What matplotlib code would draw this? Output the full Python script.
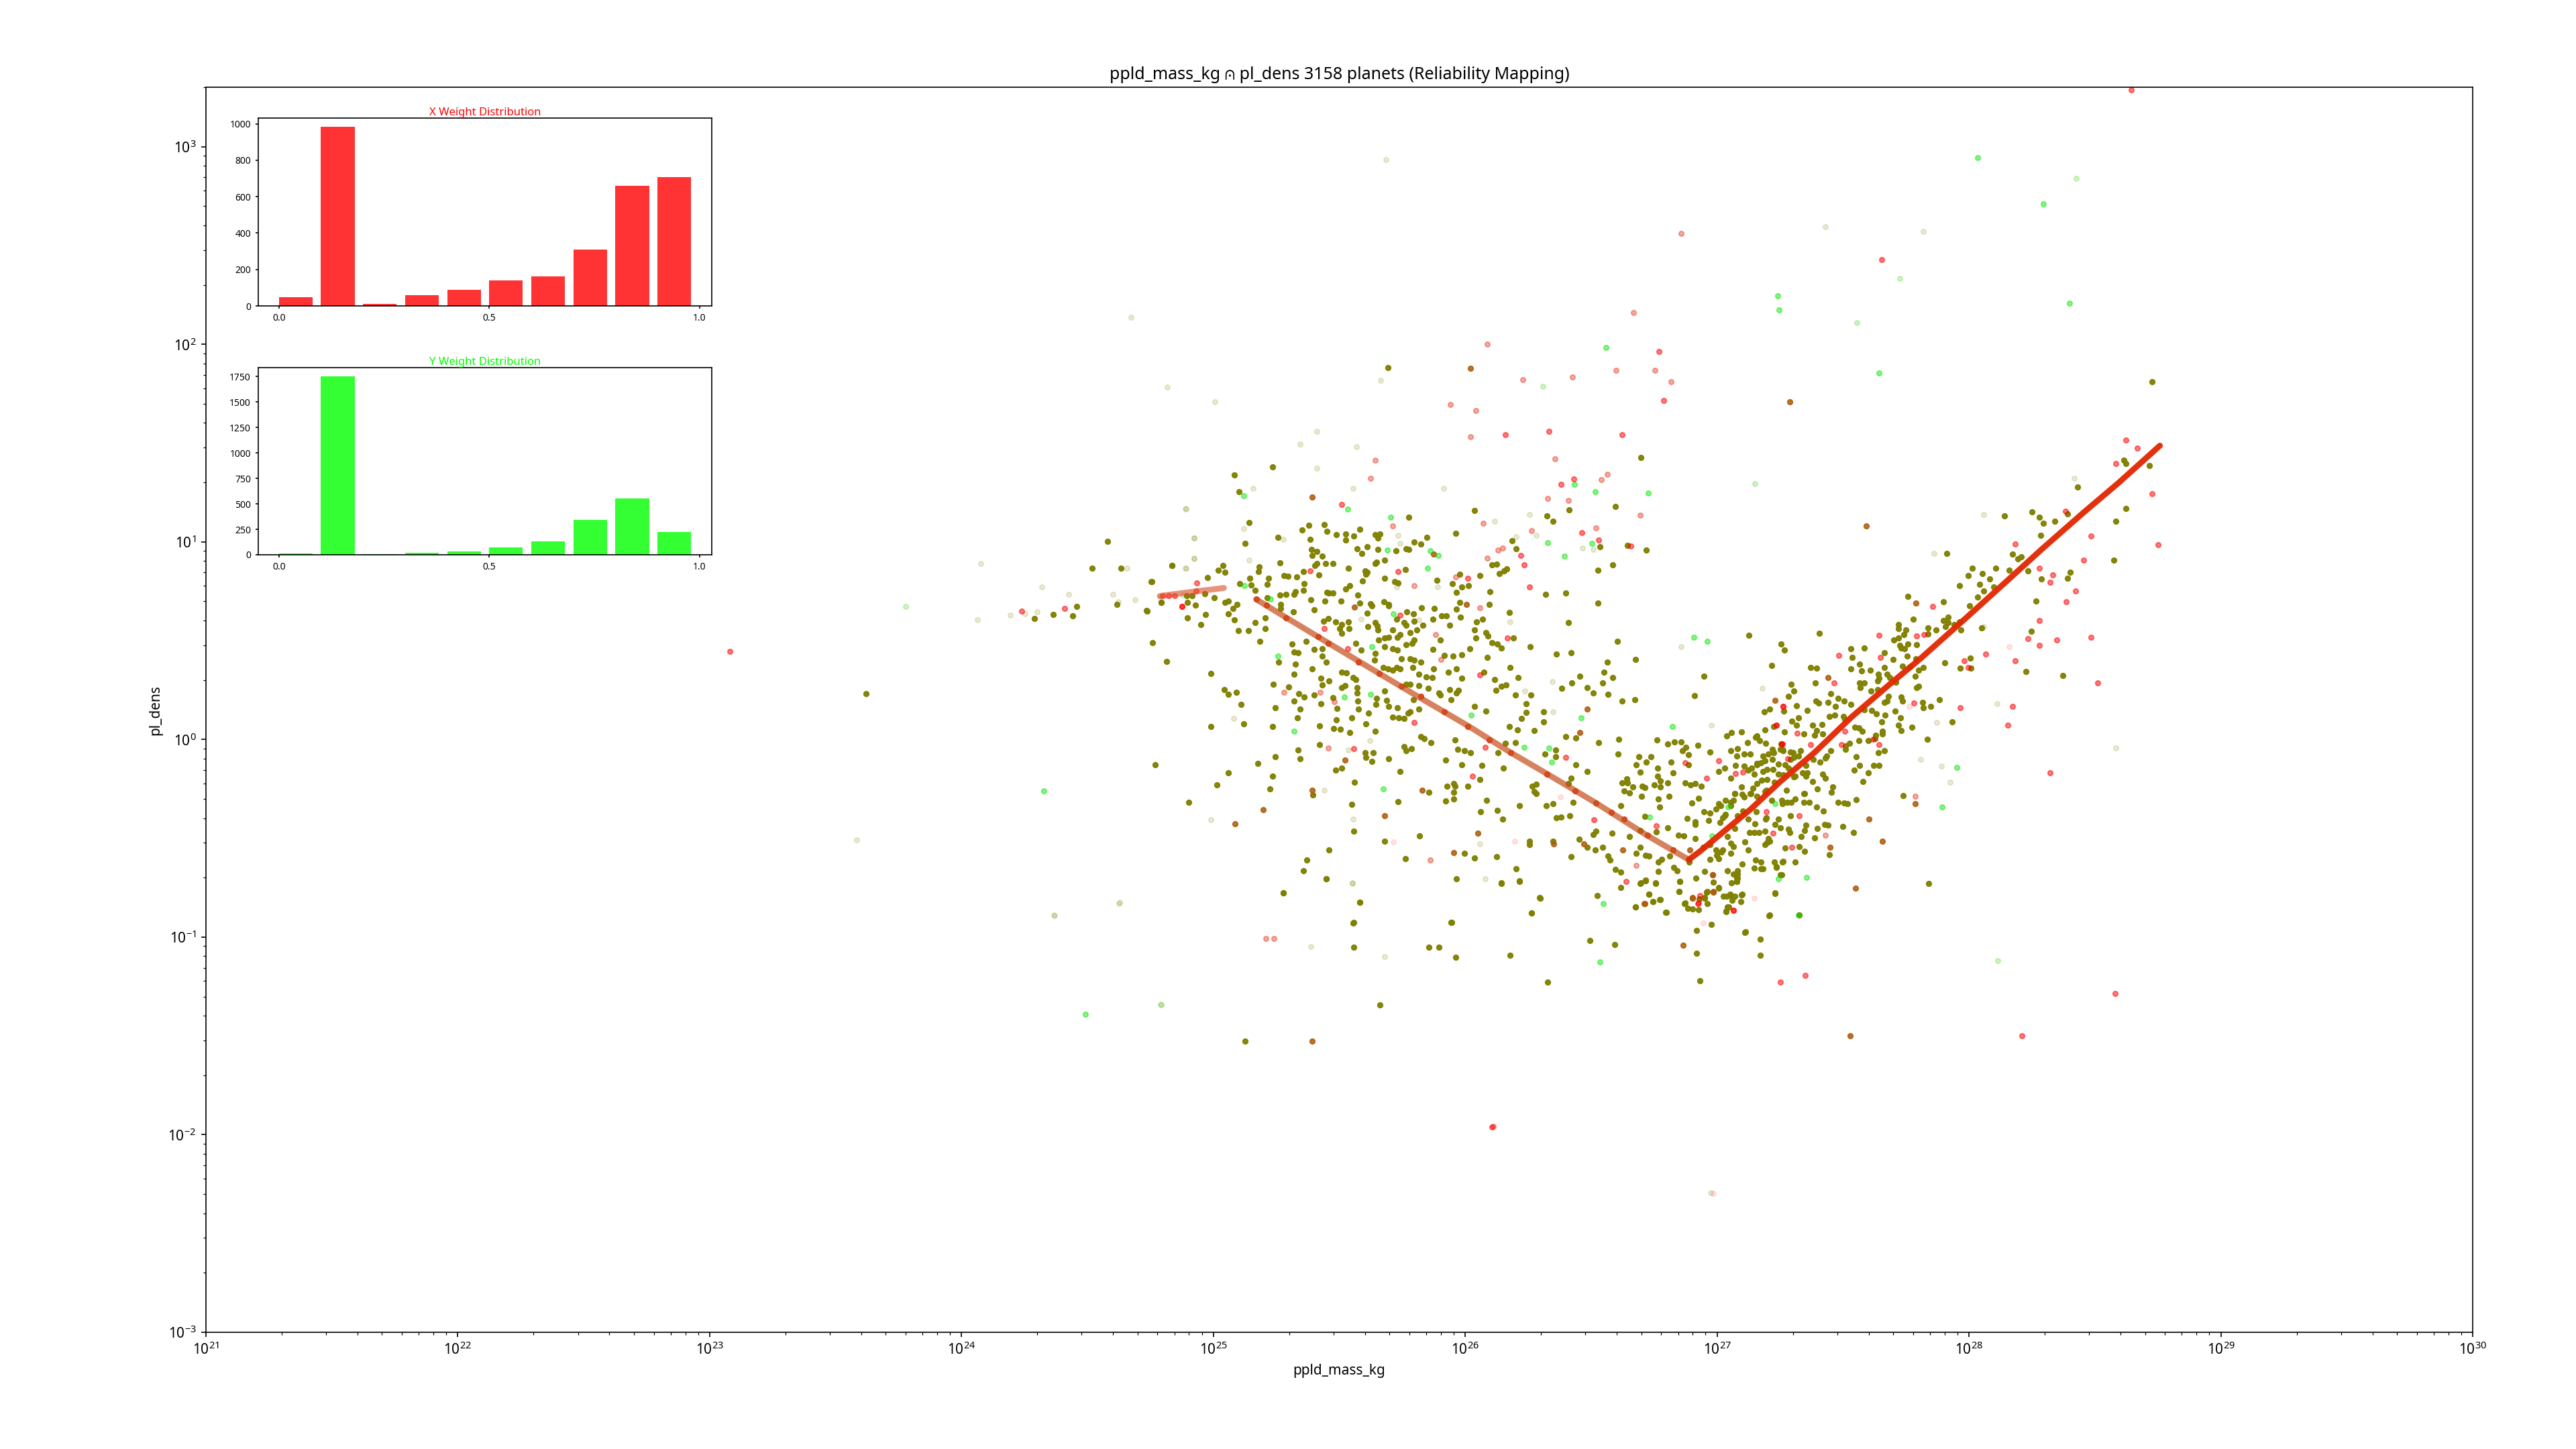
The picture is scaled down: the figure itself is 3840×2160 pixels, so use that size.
#!/usr/bin/env python3

# +
# import(s)
# -
import matplotlib
matplotlib.use('Agg')
import matplotlib.pyplot as plt
import numpy as np


# +
# constant(s): values, as (log10 mass, log10 density)
# -
OLIVE = [
    (25.083,1.338),(25.234,1.380),(25.102,1.255),(25.141,1.098),(25.255,1.022),(25.126,0.991),(25.380,1.084),(25.440,1.086),
    (25.353,1.061),(25.450,1.053),(25.384,1.013),(25.489,1.035),(25.526,1.041),(25.557,1.030),(25.581,1.065),(25.526,1.010),
    (25.642,1.036),(25.662,1.039),(25.654,1.020),(25.776,1.124),(25.848,1.023),(25.961,1.042),(26.036,1.158),(25.798,1.000),
    (25.824,0.989),(25.571,0.965),(25.589,0.940),(25.652,0.961),(25.610,0.975),(25.679,0.906),(25.724,0.954),(25.764,0.965),
    (25.776,0.963),(25.649,0.897),(25.642,0.889),(25.391,0.933),(25.433,0.928),(25.389,0.963),(25.411,0.952),(25.411,0.892),
    (25.404,0.882),(25.445,0.892),(25.474,0.892),(25.535,0.866),(25.603,0.854),(25.611,0.847),(25.606,0.837),(25.763,0.861),
    (25.679,0.816),(25.591,0.802),(25.720,0.799),(25.732,0.792),(25.888,0.806),(25.977,0.837),(26.058,0.828),(25.948,0.790),
    (25.987,0.771),(26.012,0.778),(25.965,0.745),(26.099,0.749),(25.978,0.693),(26.096,0.684),(25.540,0.778),(25.525,0.762),
    (25.574,0.730),(25.452,0.743),(25.460,0.742),(25.475,0.740),(25.418,0.833),(25.357,0.850),(25.265,0.895),(25.183,0.873),
    (25.180,0.850),(25.280,0.830),(25.297,0.826),(25.331,0.824),(25.219,0.816),(25.360,0.790),(25.214,0.785),(25.144,0.816),
    (25.151,0.783),(25.105,0.788),(25.039,0.882),(24.835,0.880),(25.020,0.856),(25.046,0.847),(24.976,0.819),(24.755,0.798),
    (25.166,0.755),(25.289,0.734),(25.357,0.755),(25.326,0.747),(25.319,0.736),(25.265,0.730),(25.214,0.719),(25.387,0.707),
    (25.442,0.700),(25.506,0.700),(25.581,0.691),(25.623,0.686),(25.678,0.698),(25.696,0.678),(25.267,0.682),(25.268,0.664),
    (25.401,0.658),(24.966,0.738),(24.915,0.729),(25.003,0.719),(24.893,0.728),(24.898,0.695),(24.928,0.681),(24.793,0.693),
    (24.736,0.651),(25.047,0.695),(25.059,0.702),(25.095,0.683),(25.078,0.663),(25.058,0.636),(24.968,0.631),(25.083,0.605),
    (24.898,0.615),(24.949,0.582),(25.165,0.593),(25.205,0.617),(25.100,0.550),(25.139,0.550),(25.205,0.561),(25.185,0.496),
    (25.318,0.646),(25.438,0.598),(25.455,0.612),(25.486,0.596),(25.509,0.582),(25.537,0.594),(25.501,0.561),(25.538,0.561),
    (25.509,0.539),(25.611,0.640),(25.628,0.678),(25.696,0.682),(25.613,0.570),(25.642,0.591),(25.651,0.574),(25.654,0.556),
    (25.727,0.608),(25.758,0.591),(25.768,0.646),(25.793,0.636),(25.827,0.665),(25.876,0.663),(25.764,0.577),(25.798,0.600),
    (25.832,0.579),(25.807,0.556),(25.781,0.542),(25.713,0.553),(25.742,0.532),(25.696,0.518),(25.679,0.513),(25.656,0.504),
    (25.730,0.517),(25.871,0.608),(25.905,0.625),(25.926,0.625),(25.938,0.579),(25.982,0.620),(25.965,0.660),(26.045,0.596),
    (26.069,0.608),(26.036,0.556),(26.082,0.542),(26.091,0.525),(26.043,0.513),(26.106,0.491),(26.128,0.482),(26.142,0.463),
    (26.192,0.513),(26.175,0.643),(26.259,0.470),(26.410,0.593),(26.398,0.740),(26.320,0.733),(26.526,0.691),(26.526,0.856),
    (26.585,0.885),(26.719,0.958),(26.643,0.982),(26.534,0.975),(26.697,1.428),(26.597,1.179),(26.412,1.162),(26.325,1.132),
    (26.349,1.106),(26.186,1.006),(26.203,0.965),(26.164,0.864),(26.135,0.838),(26.155,0.854),(26.106,0.885),(26.124,0.888),
    (25.311,0.484),(25.368,0.496),(25.399,0.456),(25.433,0.461),(25.336,0.439),(25.319,0.441),(25.258,0.392),(25.391,0.357),
    (25.326,0.380),(25.319,0.331),(25.431,0.422),(25.448,0.390),(25.426,0.309),(25.459,0.297),(25.433,0.276),(25.238,0.280),
    (25.299,0.266),(25.338,0.231),(25.360,0.214),(25.319,0.193),(25.401,0.224),(25.426,0.181),(25.246,0.162),(25.334,0.110),
    (25.345,0.155),(25.234,0.064),(25.120,0.079),(24.990,0.067),(25.109,0.176),(25.092,0.240),(25.042,0.254),(25.058,0.228),
    (24.991,0.335),(24.815,0.396),(24.759,0.491),(25.509,0.340),(25.528,0.338),(25.554,0.314),(25.566,0.302),(25.571,0.262),
    (25.509,0.261),(25.523,0.273),(25.571,0.236),(25.572,0.196),(25.475,0.210),(25.492,0.157),(25.577,0.155),(25.617,0.133),
    (25.550,0.110),(25.487,0.098),(25.477,0.057),(25.503,0.051),(25.540,0.034),(25.421,0.069),(25.606,0.079),(25.642,0.043),
    (25.645,0.179),(25.649,0.207),(25.679,0.245),(25.688,0.197),(25.696,0.167),(25.730,0.162),(25.713,0.112),(25.735,0.110),
    (25.757,0.107),(25.773,0.133),(25.781,0.141),(25.815,0.153),(25.764,0.280),(25.781,0.280),(25.815,0.273),(25.793,0.200),
    (25.853,0.259),(25.895,0.236),(25.900,0.224),(25.944,0.202),(25.965,0.236),(25.972,0.248),(25.938,0.254),(25.965,0.356),
    (25.985,0.311),(25.933,0.340),(25.868,0.314),(25.875,0.357),(25.846,0.318),(25.815,0.331),(25.792,0.363),(25.741,0.357),
    (25.727,0.363),(25.713,0.352),(25.693,0.357),(25.674,0.363),(25.824,0.392),(25.798,0.401),(25.781,0.409),(25.747,0.409),
    (25.730,0.453),(25.713,0.461),(25.790,0.487),(25.764,0.479),(25.798,0.505),(25.679,0.470),(25.642,0.435),(25.639,0.401),
    (25.586,0.453),(25.566,0.487),(25.917,0.427),(25.951,0.423),(25.985,0.430),(26.017,0.458),(25.902,0.505),(25.871,0.456),
    (26.087,0.416),(26.073,0.340),(26.179,0.366),(26.209,0.312),(26.116,0.302),(26.143,0.271),(26.163,0.275),(26.123,0.249),
    (26.199,0.224),(26.260,0.224),(26.036,0.167),(26.082,0.145),(26.243,0.181),(26.243,0.138),(26.223,0.107),(26.311,0.090),
    (26.310,0.141),(26.175,0.064),(26.206,0.050),(26.274,0.046),(26.362,0.433),(26.420,0.440),(26.563,0.392),(26.604,0.498),
    (26.677,0.404),(26.551,0.340),(26.585,0.314),(26.546,0.288),(26.456,0.321),(26.422,0.286),(26.383,0.259),(26.485,0.262),
    (26.507,0.235),(26.566,0.228),(26.622,0.196),(26.673,0.202),(26.947,0.321),(26.909,0.223),(27.125,0.527),(27.253,0.482),
    (27.266,0.454),(25.824,0.015),(25.836,0.003),(25.863,-0.016),(25.960,-0.002),(25.758,-0.037),(25.764,-0.058),(25.785,-0.046),
    (25.634,-0.066),(25.603,-0.066),(25.628,-0.110),(25.606,-0.089),(25.696,-0.099),(25.335,-0.052),(25.421,-0.026),(25.246,-0.087),
    (25.345,-0.099),(24.769,-0.127),(25.176,-0.120),(25.058,-0.168),(25.234,-0.187),(25.013,-0.229),(25.224,-0.251),(24.901,-0.319),
    (25.486,-0.154),(25.509,-0.144),(25.742,-0.161),(25.559,-0.215),(25.921,-0.104),(25.970,-0.049),(25.997,-0.058),(26.021,-0.068),
    (25.987,-0.127),(26.065,-0.132),(26.152,-0.144),(26.129,-0.068),(26.199,-0.016),(26.160,-0.020),(26.057,-0.201),(26.011,-0.236),
    (25.927,-0.236),(25.953,-0.222),(25.960,-0.236),(25.955,-0.267),(25.921,-0.312),(25.953,-0.300),(25.856,-0.267),(25.732,-0.315),
    (25.549,-0.329),(25.394,-0.282),(25.679,-0.516),(25.557,-0.464),(25.819,-0.488),(25.459,-0.559),(25.448,-0.706),(25.581,-0.824),
    (25.555,-0.928),(25.278,-0.777),(25.358,-0.663),(25.370,-0.610),(25.763,-0.604),(25.944,-0.924),(25.965,-0.706),(25.997,-0.575),
    (26.036,-0.601),(26.124,-0.594),(26.143,-0.728),(26.203,-0.654),(26.215,-0.716),(26.262,-0.879),(26.296,-0.801),(26.254,-0.516),
    (26.254,-0.531),(26.347,-0.516),(26.451,-0.504),(26.084,-0.308),(26.062,-0.367),(26.126,-0.360),(26.148,-0.402),(26.216,-0.336),
    (26.281,-0.274),(26.274,-0.265),(26.265,-0.236),(26.282,-0.227),(26.322,-0.334),(26.347,-0.326),(26.362,-0.395),(26.381,-0.393),
    (26.415,-0.385),(26.427,-0.317),(26.420,-0.196),(26.485,-0.162),(26.440,-0.129),(26.410,-0.222),(26.316,-0.073),(26.359,-0.052),
    (26.359,-0.087),(26.398,0.015),(26.439,0.008),(26.530,-0.016),(26.610,0.000),(26.607,-0.073),(26.690,-0.087),(26.736,-0.087),
    (26.719,-0.115),(26.678,-0.127),(26.694,-0.165),(26.763,-0.144),(26.818,-0.115),(26.886,-0.127),(26.760,-0.002),(26.804,-0.023),
    (26.830,-0.012),(26.857,-0.012),(26.877,-0.040),(26.923,-0.030),(26.862,-0.057),(26.886,-0.076),(26.971,-0.063),(27.037,0.019),
    (27.057,0.036),(27.098,0.038),(27.157,0.017),(27.191,0.050),(27.225,0.064),(27.188,0.141),(27.209,0.155),(27.265,0.145),
    (27.282,0.219),(27.305,0.245),(27.293,0.280),(27.315,0.171),(27.322,0.110),(27.297,0.093),(27.315,0.072),(27.217,0.373),
    (27.370,0.363),(27.358,0.147),(27.344,0.029),(27.268,0.038),(26.641,-0.199),(26.624,-0.220),(26.643,-0.218),(26.665,-0.239),
    (26.631,-0.260),(26.651,-0.269),(26.702,-0.236),(26.712,-0.243),(26.763,-0.187),(26.775,-0.210),(26.750,-0.231),(26.775,-0.239),
    (26.804,-0.218),(26.826,-0.170),(26.872,-0.218),(26.894,-0.231),(26.913,-0.222),(26.937,-0.236),(26.925,-0.296),(26.899,-0.320),
    (26.767,-0.300),(26.809,-0.287),(26.699,-0.287),(26.617,-0.334),(26.773,-0.343),(26.712,-0.388),(26.880,-0.398),(26.913,-0.415),
    (26.913,-0.429),(26.948,-0.365),(26.971,-0.372),(26.967,-0.409),(26.996,-0.351),(27.013,-0.334),(27.069,-0.274),(27.107,-0.291),
    (27.132,-0.274),(27.157,-0.287),(27.098,-0.239),(27.055,-0.196),(27.005,-0.161),(27.030,-0.144),(27.072,-0.132),(27.107,-0.135),
    (27.124,-0.156),(27.157,-0.127),(27.191,-0.109),(27.225,-0.066),(27.259,-0.049),(27.302,-0.066),(27.055,-0.058),(27.081,-0.046),
    (27.107,-0.075),(27.132,-0.075),(27.078,-0.083),(27.157,-0.222),(27.191,-0.265),(27.217,-0.308),(27.259,-0.326),(27.293,-0.317),
    (27.344,-0.274),(27.276,-0.256),(27.310,-0.187),(27.353,-0.187),(27.055,-0.334),(27.030,-0.386),(27.081,-0.386),(27.123,-0.403),
    (27.149,-0.426),(27.195,-0.395),(27.242,-0.403),(27.284,-0.455),(27.335,-0.490),(27.209,-0.516),(27.191,-0.533),(27.123,-0.559),
    (27.064,-0.542),(27.042,-0.490),(26.971,-0.533),(26.996,-0.559),(27.018,-0.568),(26.971,-0.606),(27.005,-0.602),(27.042,-0.663),
    (27.081,-0.680),(27.078,-0.720),(27.154,-0.611),(27.174,-0.654),(27.234,-0.645),(27.259,-0.619),(27.310,-0.619),(27.251,-0.685),
    (27.230,-0.779),(27.208,-0.889),(27.098,-0.786),(27.055,-0.789),(27.005,-0.753),(26.957,-0.772),(26.950,-0.801),(26.928,-0.806),
    (26.872,-0.827),(26.885,-0.853),(26.677,-0.848),(26.772,-0.810),(26.745,-0.822),(26.729,-0.784),(26.799,-0.875),(26.716,-0.711),
    (26.756,-0.728),(26.694,-0.728),(26.617,-0.671),(26.597,-0.658),(26.617,-0.748),(26.851,-0.718),(26.848,-0.768),(26.827,-0.646),
    (26.840,-0.663),(26.767,-0.668),(26.767,-0.620),(26.780,-0.607),(26.811,-0.590),(26.889,-0.620),(26.916,-0.703),(26.950,-0.668),
    (26.984,-0.723),(26.729,-0.590),(26.716,-0.585),(26.694,-0.544),(26.678,-0.576),(26.566,-0.588),(26.575,-0.611),(26.546,-0.544),
    (26.515,-0.559),(26.483,-0.547),(26.420,-0.594),(26.508,-0.481),(26.520,-0.464),(26.583,-0.475),(26.653,-0.490),(26.694,-0.461),
    (26.758,-0.467),(26.804,-0.447),(26.846,-0.485),(26.869,-0.488),(26.913,-0.502),(26.945,-0.547),
    (28.716,1.385),(28.615,1.413),(28.622,1.397),(28.624,1.169),(28.583,1.106),(28.575,0.907),(28.432,1.276),(28.140,1.131),
    (28.249,1.151),(28.280,1.125),(28.296,1.093),(28.340,1.103),(28.284,1.034),(28.391,1.141),(27.913,0.940),(28.174,0.937),
    (28.194,0.916),(28.208,0.923),(28.160,0.855),(28.235,0.854),(28.013,0.868),(28.106,0.868),(28.052,0.838),(27.996,0.831),
    (28.081,0.811),(28.402,0.847),(28.391,0.816),(28.288,0.812),(27.963,0.778),(28.041,0.786),(28.099,0.772),(28.058,0.752),
    (28.034,0.721),(28.003,0.676),(27.899,0.698),(27.757,0.724),(28.266,0.700),(27.778,0.610),(27.918,0.618),(27.898,0.601),
    (27.916,0.591),(27.906,0.573),(27.940,0.582),(27.963,0.594),(27.967,0.553),(28.050,0.565),(28.247,0.549),(27.719,0.582),
    (27.750,0.553),(27.719,0.560),(27.742,0.530),(27.720,0.513),(27.701,0.504),(27.725,0.478),(27.732,0.464),(27.743,0.459),
    (27.757,0.482),(27.793,0.480),(27.837,0.565),(27.868,0.553),(27.837,0.535),(27.530,0.461),(27.584,0.463),(27.664,0.440),
    (27.535,0.416),(27.700,0.404),(27.755,0.421),(27.789,0.407),(27.565,0.383),(27.530,0.357),(27.573,0.347),(27.608,0.350),
    (27.663,0.366),(27.674,0.331),(27.640,0.331),(27.644,0.309),(27.685,0.314),(27.637,0.297),(27.736,0.371),(27.766,0.369),
    (27.787,0.319),(27.800,0.352),(27.818,0.366),(27.905,0.387),(27.966,0.362),(28.004,0.413),(28.007,0.362),(28.225,0.345),
    (28.372,0.324),(27.566,0.285),(27.583,0.288),(27.568,0.262),(27.611,0.245),(27.637,0.253),(27.709,0.290),(27.800,0.269),
    (27.793,0.262),(27.883,0.200),(27.848,0.169),(27.816,0.188),(27.818,0.160),(27.731,0.215),(27.736,0.196),(27.679,0.217),
    (27.663,0.189),(27.674,0.193),(27.532,0.176),(27.504,0.196),(27.481,0.207),(27.440,0.189),(27.392,0.196),(27.402,0.184),
    (27.390,0.288),(27.396,0.362),(27.406,0.537),(27.451,0.231),(27.470,0.169),(27.583,0.150),(27.614,0.148),(27.633,0.129),
    (27.668,0.122),(27.653,0.089),(27.719,0.072),(27.728,0.110),(27.774,0.061),(27.933,0.089),(27.731,0.046),(27.657,0.041),
    (27.655,0.027),(27.630,0.020),(27.467,0.122),(27.447,0.115),(27.501,0.118),(27.508,0.103),(27.546,0.063),(27.562,0.058),
    (27.576,0.041),(27.416,0.075),(27.379,0.072),(27.396,0.046),(27.386,0.020),(27.420,0.028),(27.526,-0.018),(27.509,-0.032),
    (27.509,-0.049),(27.562,-0.006),(27.600,-0.004),(27.628,0.006),(27.664,-0.058),(27.641,-0.067),(27.834,0.001),(27.644,-0.132),
    (27.622,-0.132),(27.600,-0.170),(27.566,-0.132),(27.553,-0.087),(27.579,-0.214),(27.545,-0.155),(27.452,-0.058),(27.436,-0.084),
    (27.430,-0.093),(27.409,-0.113),(27.383,-0.101),(27.420,-0.174),(27.430,-0.195),(27.379,-0.214),(27.399,-0.249),(27.454,-0.267),
    (27.458,-0.240),(27.481,-0.317),(27.504,-0.323),(27.517,-0.326),(27.553,-0.305),(27.739,-0.283),(27.422,-0.361),(27.396,-0.343),
    (27.440,-0.435),(27.426,-0.430),(27.500,-0.440),(27.542,-0.471),(27.398,-0.451),(27.388,-0.499),(27.348,-0.567),(27.447,-0.582),
    (27.840,-0.729),(27.152,0.011),(27.168,-0.006),(27.193,-0.018),(27.121,-0.015),(27.254,-0.023),(27.250,-0.049),(27.263,-0.058),
    (27.220,-0.049),(27.202,-0.075),(27.182,-0.084),(27.291,-0.063),(27.331,-0.058),(27.304,-0.089),(27.324,-0.084),(27.291,-0.101),
    (27.218,-0.101),(27.157,-0.122),(27.175,-0.119),(27.138,-0.144),(27.243,-0.124),(27.271,-0.127),(27.284,-0.144),(27.182,-0.162),
    (27.199,-0.153),(27.223,-0.153),(27.243,-0.174),(27.263,-0.179),(27.304,-0.188),(27.338,-0.167),(27.358,-0.170),(27.352,-0.132),
    (27.148,-0.174),(27.178,-0.205),(27.198,-0.202),(27.227,-0.217),(27.141,-0.248),(27.134,-0.274),(27.195,-0.257),(27.100,-0.278),
    (27.070,-0.274),(27.066,-0.309),(27.032,-0.309),(27.005,-0.326),(27.053,-0.317),(27.103,-0.361),(27.155,-0.364),(27.193,-0.404),
    (27.229,-0.430),(27.250,-0.447),(27.291,-0.387),(27.352,-0.433),(27.348,-0.461),(27.288,-0.471),(27.257,-0.309),(27.277,-0.317),
    (27.311,-0.300),(27.348,-0.274),(27.345,-0.319),(27.365,-0.317),(27.032,-0.378),(27.023,-0.395),(27.012,-0.421),(27.071,-0.452),
    (27.130,-0.471),(27.148,-0.471),(27.166,-0.471),(27.189,-0.465),(27.202,-0.503),(27.198,-0.520),(27.111,-0.518),(27.055,-0.525),
    (27.269,-0.548),(27.325,-0.542),(27.263,-0.617),(27.227,-0.620),(27.236,-0.646),(27.182,-0.655),(27.148,-0.651),(27.175,-0.620),
    (27.100,-0.629),(27.053,-0.577),(26.998,-0.586),(27.021,-0.560),(27.257,-0.686),(27.229,-0.776),(27.066,-0.681),(27.080,-0.664),
    (27.080,-0.703),(27.070,-0.793),(27.046,-0.849),(27.035,-0.871),(27.005,-0.750),(26.958,-0.772),(26.978,-0.935),(26.917,-0.966),
    (27.111,-0.975),(27.172,-1.010),(27.207,-0.892),(27.325,-0.889),(27.113,-0.973),(27.172,-1.093),(26.918,-1.082),(26.932,-1.221),
    (27.036,-0.867),(27.059,-0.815),(27.093,-0.822),(27.099,-0.784),(27.042,-0.847),(27.025,-0.792),(27.038,-0.792),(27.051,-0.784),
    (26.961,-0.831),(26.925,-0.860),(26.903,-0.858),(26.871,-0.831),(26.960,-0.771),(26.951,-0.802),(27.058,-0.727),(27.079,-0.720),
    (27.079,-0.701),(26.851,-0.719),(26.850,-0.768),(25.449,-0.705),(25.278,-0.776),(25.581,-0.825),(25.556,-0.927),(25.946,-0.924),
    (26.142,-0.727),(26.216,-0.717),(26.297,-0.802),(26.524,-0.789),(26.262,-0.879),(26.496,-1.019),(26.593,-1.038),(25.558,-1.052),
    (25.856,-1.052),(25.895,-1.052),(25.963,-1.103),(26.178,-1.093),(26.328,-1.229),(25.660,-1.343),(25.125,-1.528),(26.677,-0.847),
    (26.797,-0.876),(26.728,-0.784),(26.746,-0.822),(26.774,-0.811),(26.697,-0.726),(26.715,-0.714),(26.756,-0.727),
    (28.727,1.811),(25.694,1.883),(24.579,1.002),(24.518,0.867),(24.634,0.867),(24.836,0.879),(24.754,0.799),(24.458,0.673),
    (24.289,0.612),(24.365,0.633),(24.440,0.626),(24.617,0.683),(24.735,0.652),(24.793,0.694),(23.622,0.231),(27.708,0.144),
]
BROWN = [
    (25.391,1.226),(25.391,-0.258),(25.197,-0.354),(25.085,-0.426),(25.830,-0.258),(25.679,-0.385),(25.523,-0.104),(26.051,-0.475),
    (25.953,-0.572),(26.352,-0.530),(26.471,-0.530),(26.626,-0.559),(26.892,-0.559),(26.982,-0.684),(26.902,-0.801),(26.984,-0.772),
    (26.711,-0.831),(26.483,0.155),(26.454,0.034),(27.229,0.197),(26.006,0.683),(25.875,0.937),(25.559,0.669),(27.593,1.082),
    (27.789,0.691),(27.441,0.314),(27.656,-0.515),(27.604,-0.404),(27.550,-0.752),(27.448,-0.544),(27.787,-0.326),(26.903,-0.802),
    (26.981,-0.685),(26.986,-0.771),(26.866,-1.042),(27.529,-1.500),(25.392,-1.528),(26.713,-0.831),(27.288,1.708),(26.022,1.878),
]
RED = [
    (24.935,0.792),(24.876,0.672),(25.510,1.188),(25.384,0.854),(25.732,0.850),(26.011,0.816),(25.440,0.560),(25.741,0.629),
    (25.533,0.461),(26.167,0.513),(26.058,0.328),(26.254,0.771),(26.235,0.885),(26.220,0.930),(26.656,0.978),(26.529,1.010),
    (26.464,1.046),(26.381,1.290),(26.432,1.319),(26.333,1.560),(26.622,1.542),(26.160,1.542),(25.798,0.086),(26.079,-0.039),
    (26.400,-0.089),(26.028,-0.187),(26.510,-0.407),(26.758,-0.436),(26.639,-0.718),(27.066,-0.864),(26.959,-0.196),(27.005,-0.106),
    (26.874,-0.118),(27.072,-0.173),(27.103,-0.166),(27.261,0.167),(27.236,0.072),(27.258,-0.023),(27.196,-0.364),(27.222,-0.474),
    (27.297,-0.545),(26.925,-0.827),(25.557,-0.045),(28.622,1.516),(28.669,1.475),(28.582,1.395),(28.727,1.243),(28.750,0.985),
    (28.484,1.030),(28.384,1.155),(28.183,0.989),(28.456,0.909),(28.280,0.868),(28.333,0.833),(28.322,0.795),(28.423,0.753),
    (28.385,0.696),(27.856,0.674),(27.644,0.528),(27.793,0.523),(27.822,0.530),(28.280,0.603),(28.234,0.511),(28.280,0.475),
    (28.349,0.503),(28.484,0.518),(28.065,0.433),(27.981,0.399),(27.997,0.364),(28.183,0.397),(28.511,0.288),(28.172,0.169),
    (28.155,0.072),(27.966,0.160),(27.780,0.186),(27.483,0.426),(27.649,0.416),(27.464,0.285),(28.322,-0.167),(27.327,-0.387),
    (27.371,-0.027),(27.318,0.030),(27.236,0.072),(27.493,-0.025),(27.507,0.043),(27.618,0.001),(27.642,-0.027),(27.280,-0.096),
    (27.262,0.167),(27.257,-0.023),(27.252,-1.228),(27.351,-1.194),(28.580,-1.285),(28.209,-1.500),(27.065,-0.863),(26.923,-0.831),
    (26.932,-0.789),(28.643,3.289),(27.653,2.428),(26.769,1.963),(26.788,1.715),(24.239,0.650),(24.410,0.662),(24.799,0.728),
    (24.822,0.726),(24.845,0.726),(24.876,0.673),(24.932,0.752),(23.081,0.447),(26.107,-1.962),
]
SALMON = [
    (25.623,1.323),(25.642,1.413),(26.021,1.532),(25.712,1.081),(26.072,1.093),(26.262,1.056),(26.520,1.072),(26.694,1.136),
    (26.328,1.219),(26.410,1.210),(26.563,1.343),(26.541,1.314),(26.356,1.420),(26.087,0.918),(26.130,0.960),(26.148,0.970),
    (25.961,0.823),(25.798,0.778),(26.058,0.667),(25.881,0.532),(25.904,0.404),(25.280,0.240),(25.479,0.190),(25.425,0.240),
    (25.455,-0.044),(25.860,-0.611),(26.678,-0.637),(26.857,2.562),(26.086,2.000),(26.229,1.821),(26.426,1.836),(25.942,1.695),
    (26.043,1.663),(26.600,1.870),(26.752,1.870),(26.818,1.812),(26.669,2.159),(27.786,-0.286),(27.429,-0.485),(25.209,-1.006),
    (25.239,-1.006),(26.111,-1.959),
]
GREEN = [
    (25.120,1.234),(25.533,1.164),(25.703,1.124),(26.434,1.292),(26.515,1.255),(26.328,0.996),(26.502,0.992),(26.393,0.927),
    (26.726,1.246),(25.851,0.866),(25.892,0.932),(25.861,0.956),(25.690,0.959),(25.124,0.780),(25.226,0.709),(25.715,0.636),
    (25.630,0.468),(25.255,0.423),(25.625,0.228),(25.521,0.214),(26.024,0.122),(25.321,0.041),(25.674,-0.249),(26.461,0.109),
    (26.233,-0.038),(26.333,-0.044),(26.342,-0.115),(26.733,-0.393),(26.547,-0.829),(26.823,0.064),(26.908,0.518),(26.960,0.498),
    (27.044,-0.343),(27.231,-0.326),(26.979,-0.488),(27.244,-0.706),(27.355,-0.698),(27.324,-0.888),(27.952,-0.142),(27.893,-0.343),
    (26.534,-1.125),(24.493,-1.392),(28.034,2.946),(28.296,2.712),(27.240,2.244),(27.246,2.173),(28.399,2.209),(27.642,1.856),
    (26.558,1.983),(24.327,-0.259),
]
PALE_GREEN = [
    (28.427,2.838),(27.725,2.334),(27.554,2.109),(26.309,1.788),(27.151,1.293),(28.113,-1.120),(24.793,-1.343),(23.777,0.673),
]
PALE_OLIVE = [
    (27.430,2.594),(27.819,2.571),(25.685,2.935),(24.818,1.785),(25.007,1.708),(25.665,1.818),(24.077,0.889),(24.674,2.138),
    (24.890,1.169),(24.923,1.019),(24.923,0.917),(24.890,0.867),(24.658,0.867),(24.320,0.771),(24.424,0.735),(24.602,0.735),
    (24.690,0.707),(24.062,0.605),(24.253,0.636),(24.194,0.628),(24.301,0.645),(24.789,0.720),(24.878,0.732),(24.622,0.697),
    (23.583,-0.508),(24.366,-0.890),(24.627,-0.824),(24.790,-1.339),(26.975,-2.294),(28.582,-0.042),(28.418,1.323),(28.058,1.137),
    (27.860,0.940),(28.058,0.573),(26.857,0.470),(27.180,0.259),(26.978,0.072),(28.111,0.181),(27.872,0.086),(27.808,-0.101),
    (27.890,-0.136),(27.924,-0.215),(25.411,1.560),(25.345,1.496),(25.569,1.482),(25.411,1.373),(25.158,1.271),(25.555,1.271),
    (25.914,1.271),(24.891,1.167),(25.120,1.067),(24.923,1.018),(25.278,1.013),(24.923,0.916),(25.143,0.906),(24.891,0.868),
    (26.116,1.106),(26.254,1.138),(26.283,1.034),(26.201,1.027),(25.732,1.034),(25.741,0.992),(26.466,0.968),(26.509,0.963),
    (25.890,0.771),(25.727,0.773),(26.177,0.596),(25.815,0.605),(25.587,0.608),(25.080,0.108),(26.345,0.293),(26.237,0.245),
    (26.347,0.141),(25.621,-0.006),(25.535,-0.052),(25.440,-0.258),(25.555,-0.403),(24.990,-0.405),(26.079,-0.706),(25.552,-0.729),
    (26.057,-0.530),(24.370,-0.892),(24.625,-0.831),(25.553,-0.727),(25.387,-1.047),(25.680,-1.098),
]
PALE_RED = [
    (28.159,0.470),(27.763,0.169),(27.148,-0.803),(26.944,-0.928),(26.984,-2.297),(25.715,-0.518),(26.196,-0.516),(26.378,-0.291),
]
TRACK_FLAT = [(24.787,0.726),(24.932,0.750),(25.000,0.760),(25.042,0.767)]
TRACK_LEFT = [
    (25.170,0.709),(25.289,0.617),(25.458,0.487),(25.611,0.370),(25.798,0.228),(26.019,0.063),(26.180,-0.066),(26.325,-0.174),
    (26.520,-0.322),(26.716,-0.481),(26.891,-0.611),
]
TRACK_RIGHT = [
    (26.890,-0.606),(26.930,-0.568),(27.134,-0.352),(27.250,-0.214),(27.386,-0.067),(27.535,0.115),(27.685,0.279),(27.807,0.409),
    (27.990,0.617),(28.147,0.798),(28.289,0.963),(28.459,1.153),(28.595,1.300),(28.758,1.487),
]
TRACK_BEADS = [
    (25.289,0.617),(25.416,0.522),(25.455,0.487),(25.577,0.392),(25.659,0.335),(25.747,0.271),(25.824,0.219),(25.917,0.141),
    (26.011,0.067),(26.096,-0.003),(26.180,-0.066),(26.325,-0.174),(26.435,-0.260),(26.520,-0.322),(26.580,-0.369),(26.631,-0.403),
    (26.724,-0.485),(26.826,-0.559),(26.886,-0.606),(25.170,0.709),(25.210,0.680),
]
BIN_LEFT = [0.0, 0.1, 0.2, 0.3, 0.4, 0.5, 0.6, 0.7, 0.8, 0.9]
X_WEIGHT_COUNTS = [49, 983, 11, 58, 89, 141, 162, 311, 658, 709]
Y_WEIGHT_COUNTS = [13, 1750, 5, 20, 34, 71, 131, 344, 550, 226]
DOT_SIZE = 12


# +
# function: scatter_group()
# -
def scatter_group(_ax, _pairs, _color, _alpha):
    _pts = 10.0 ** np.array(_pairs)
    _ax.scatter(_pts[:, 0], _pts[:, 1], s=DOT_SIZE, color=_color, alpha=_alpha)


# +
# function: track_line()
# -
def track_line(_ax, _pairs, _color, _alpha):
    _pts = 10.0 ** np.array(_pairs)
    _ax.plot(_pts[:, 0], _pts[:, 1], lw=4.2, color=_color, alpha=_alpha, solid_capstyle='round')


# +
# function: weight_hist()
# -
def weight_hist(_fig, _rect, _counts, _color, _title):
    _ax = _fig.add_axes(_rect)
    _ax.bar(BIN_LEFT, _counts, width=0.08, align='edge', color=_color, alpha=0.8)
    _ax.set_title(_title, fontsize=8, color=_color, pad=2)
    _ax.set_xticks([0.0, 0.5, 1.0])
    _ax.tick_params(labelsize=6.7, length=2.0, pad=3.3)
    return _ax


# +
# main()
# -
if __name__ == '__main__':

    plt.rcParams['font.family'] = ['Noto Sans', 'DejaVu Sans', 'STIXGeneral']

    fig = plt.figure(figsize=(25.6, 14.4), dpi=150)
    ax = fig.add_axes([307 / 3840, 1 - 1986 / 2160, (3686 - 307) / 3840, (1986 - 130) / 2160])

    # draw the points
    scatter_group(ax, PALE_OLIVE, (0.5, 0.5, 0.0), 0.16)
    scatter_group(ax, PALE_GREEN, (0.2, 0.8, 0.0), 0.22)
    scatter_group(ax, PALE_RED, (1.0, 0.0, 0.0), 0.10)
    scatter_group(ax, OLIVE, (0.5, 0.5, 0.0), 0.95)
    scatter_group(ax, BROWN, (0.68, 0.36, 0.05), 0.85)
    scatter_group(ax, SALMON, (0.9, 0.15, 0.05), 0.38)
    scatter_group(ax, GREEN, (0.0, 0.9, 0.0), 0.45)
    scatter_group(ax, RED, (1.0, 0.0, 0.0), 0.5)

    # draw the dense track of capped values
    track_line(ax, TRACK_FLAT, (0.85, 0.3, 0.15), 0.6)
    track_line(ax, TRACK_LEFT, (0.78, 0.3, 0.1), 0.7)
    scatter_group(ax, TRACK_BEADS, (0.9, 0.15, 0.0), 0.8)
    track_line(ax, TRACK_RIGHT, (0.89, 0.15, 0.0), 0.95)

    ax.set_xscale('log')
    ax.set_yscale('log')
    ax.set_xlim(1e21, 1e30)
    ax.set_ylim(1e-3, 2000)
    ax.set_title('ppld_mass_kg \u2a40 pl_dens 3158 planets (Reliability Mapping)')
    ax.set_xlabel('ppld_mass_kg')
    ax.set_ylabel('pl_dens')

    # inset histograms
    weight_hist(fig, [385 / 3840, 1 - 456 / 2160, 676 / 3840, 280 / 2160], X_WEIGHT_COUNTS, 'red', 'X Weight Distribution')
    weight_hist(fig, [385 / 3840, 1 - 827 / 2160, 676 / 3840, 279 / 2160], Y_WEIGHT_COUNTS, 'lime', 'Y Weight Distribution')

    fig.savefig('out.png', dpi=150)
